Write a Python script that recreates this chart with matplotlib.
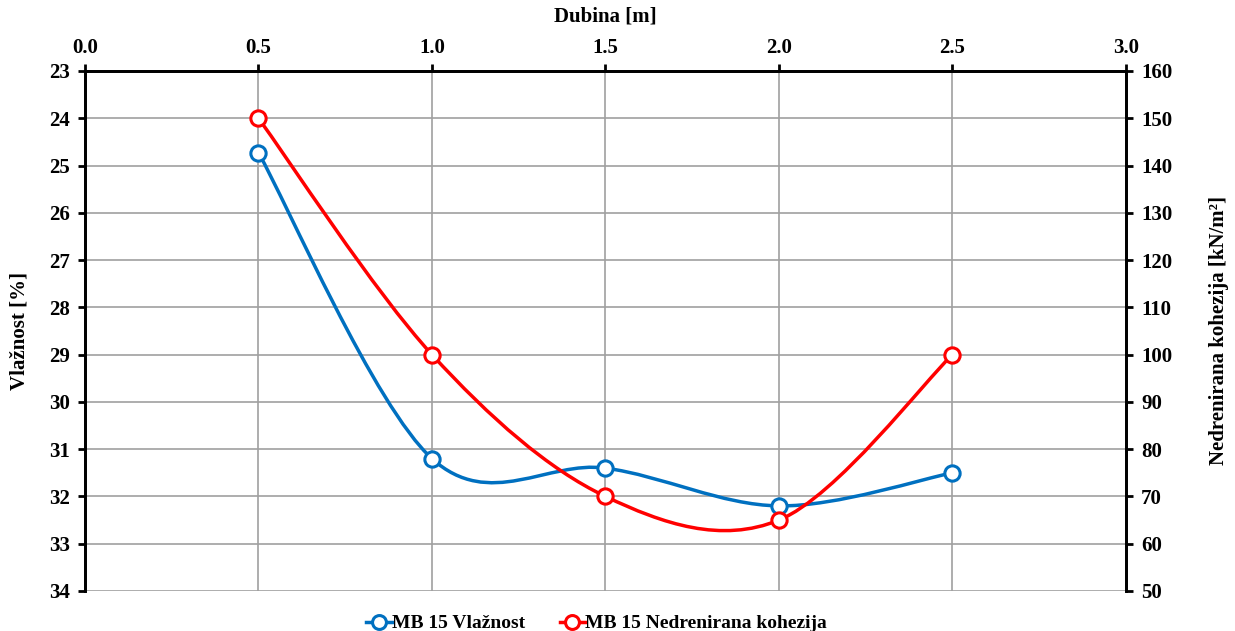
import matplotlib
matplotlib.use('Agg')
import matplotlib.pyplot as plt
from matplotlib.path import Path
from matplotlib.patches import PathPatch
from matplotlib.lines import Line2D

plt.rcParams['font.family'] = ['Liberation Serif', 'DejaVu Serif']
plt.rcParams['font.weight'] = 'bold'

# ── Data ──────────────────────────────────────────────
dubina = [0.5, 1.0, 1.5, 2.0, 2.5]
vlaznost = [24.73, 31.2, 31.4, 32.2, 31.5]
kohezija = [150, 100, 70, 65, 100]

BLUE = '#0070C0'
RED = '#FF0000'


def smooth_path(xs, ys):
    """Excel-style smoothed line as cubic Bezier segments"""
    px = [xs[0]] + list(xs) + [xs[-1]]
    py = [ys[0]] + list(ys) + [ys[-1]]
    verts = [(xs[0], ys[0])]
    codes = [Path.MOVETO]
    for i in range(1, len(px) - 2):
        c1 = (px[i] + (px[i+1] - px[i-1]) / 6, py[i] + (py[i+1] - py[i-1]) / 6)
        c2 = (px[i+1] - (px[i+2] - px[i]) / 6, py[i+1] - (py[i+2] - py[i]) / 6)
        verts += [c1, c2, (px[i+1], py[i+1])]
        codes += [Path.CURVE4] * 3
    return Path(verts, codes)


fig = plt.figure(figsize=(12.35, 6.31), dpi=100)
ax = fig.add_axes([0.0688, 0.0634, 0.8429, 0.8241])
ax2 = ax.twinx()

ax.set_xlim(0, 3)
ax.set_ylim(34, 23)
ax2.set_ylim(50, 160)
ax.set_xticks([0, 0.5, 1.0, 1.5, 2.0, 2.5, 3.0])
ax.set_yticks(range(23, 35))
ax2.set_yticks(range(50, 161, 10))
ax.xaxis.set_major_formatter(matplotlib.ticker.FormatStrFormatter('%.1f'))
ax.xaxis.tick_top()
ax.xaxis.set_label_position('top')

ax.grid(True, color='#a0a0a0', lw=1.2)
ax.set_axisbelow(True)

for a in (ax, ax2):
    a.spines['bottom'].set_visible(False)
    for s in ('left', 'right', 'top'):
        a.spines[s].set_linewidth(2)
    a.tick_params(labelsize=15, width=2, length=5, pad=6)
ax.tick_params(axis='x', pad=4)

# blue series (left axis)
ax.add_patch(PathPatch(smooth_path(dubina, vlaznost), fill=False, ec=BLUE, lw=2.5, zorder=3))
ax.plot(dubina, vlaznost, ls='none', marker='o', ms=11, mfc='white', mec=BLUE, mew=2.2, zorder=4)

# red series (right axis)
ax2.add_patch(PathPatch(smooth_path(dubina, kohezija), fill=False, ec=RED, lw=2.5, zorder=3))
ax2.plot(dubina, kohezija, ls='none', marker='o', ms=11, mfc='white', mec=RED, mew=2.2, zorder=4)

ax.set_xlabel('Dubina [m]', fontsize=15, fontweight='bold', labelpad=12)
ax.set_ylabel('Vlažnost [%]', fontsize=15, fontweight='bold', labelpad=14)
ax2.set_ylabel('Nedrenirana kohezija [kN/m²]', fontsize=15, fontweight='bold', labelpad=26)

handles = [Line2D([], [], color=BLUE, lw=2.5, marker='o', ms=10, mfc='white', mec=BLUE, mew=2.2),
           Line2D([], [], color=RED, lw=2.5, marker='o', ms=10, mfc='white', mec=RED, mew=2.2)]
fig.legend(handles, ['MB 15 Vlažnost', 'MB 15 Nedrenirana kohezija'],
           loc='lower center', bbox_to_anchor=(0.483, -0.03), ncol=2, frameon=False,
           fontsize=14, handlelength=1.3, handletextpad=0.0, columnspacing=1.8)

fig.savefig('out.png', dpi=100)
